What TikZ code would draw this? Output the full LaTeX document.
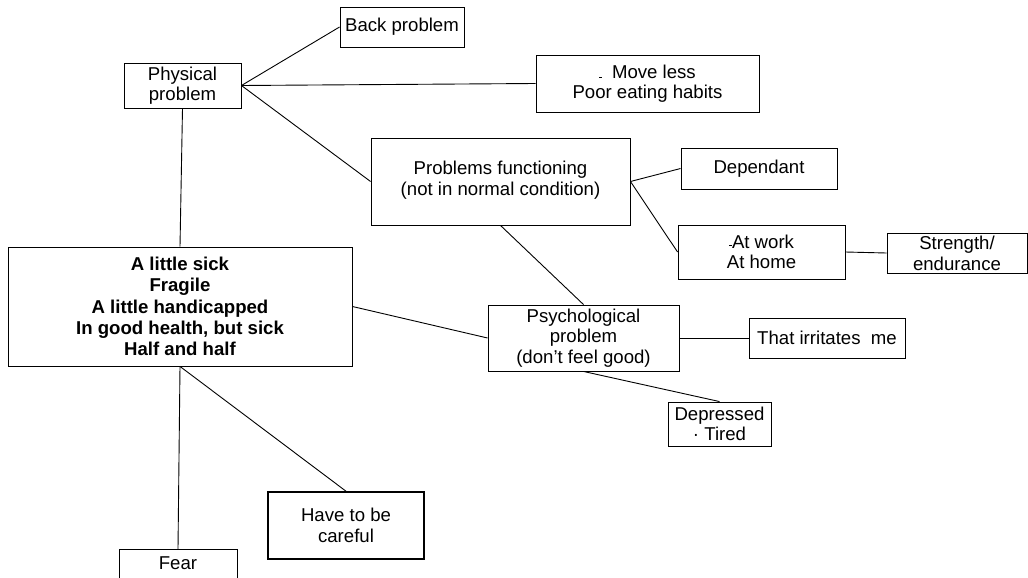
\documentclass[tikz,border=0pt]{standalone}
\usepackage{fontspec}
\setmainfont{Liberation Sans}
\begin{document}
\begin{tikzpicture}[x=1pt,y=-1pt,
  box/.style={draw, line width=0.9pt, inner sep=0pt, align=center,
    font=\fontsize{18.6}{20.5}\selectfont},
  link/.style={line width=0.9pt}]
\useasboundingbox (0,0) rectangle (1028,578);
\begin{scope}
\clip (0,0) rectangle (1028,578);
% nodes (centres and sizes in px)
\node[box, minimum width=124, minimum height=40] (back) at (402,27) {Back problem};
\node[box, minimum width=117, minimum height=45] (phys) at (182.5,85.5) {Physical\\problem};
\node[box, minimum width=223, minimum height=57] (move) at (647.5,83.5)
  {\rule{2.5pt}{1pt}\ \ Move less\\Poor eating habits};
\node[box, minimum width=259, minimum height=87] (func) at (500.5,181.5)
  {Problems functioning\\(not in normal condition)\\[-14pt]};
\node[box, minimum width=156, minimum height=41] (dep) at (759,168.5) {Dependant};
\node[box, minimum width=167, minimum height=54] (work) at (761.5,252)
  {\rule[3pt]{3pt}{0.8pt}At work\\At home};
\node[box, minimum width=140, minimum height=40] (str) at (957,253)
  {\\[-6pt]Strength/\\endurance};
\node[box, minimum width=344, minimum height=119,
  font=\fontsize{18.6}{21.3}\selectfont\bfseries] (big) at (180,306.5)
  {A little sick\\Fragile\\A little handicapped\\In good health, but sick\\Half and half};
\node[box, minimum width=191, minimum height=66] (psy) at (583.5,338)
  {Psychological\\problem\\(don’t feel good)};
\node[box, minimum width=156, minimum height=40] (irr) at (827,338) {That irritates\ \ me};
\node[box, minimum width=103, minimum height=44] (depr) at (719.5,424)
  {Depressed\\\textperiodcentered\ Tired};
\node[box, line width=1.6pt, minimum width=156, minimum height=67] (care) at (346,525.5)
  {Have to be\\careful};
\node[box, minimum width=118, anchor=north, text height=20pt, text depth=30pt] (fear)
  at (178,549) {Fear};
% connectors
\draw[link] (phys.east) -- (back.west);
\draw[link] (phys.east) -- (move.west);
\draw[link] (phys.east) -- (func.west);
\draw[link] (func.east) -- (dep.west);
\draw[link] (func.east) -- (work.west);
\draw[link] (work.east) -- (str.west);
\draw[link] (phys.south) -- (big.north);
\draw[link] (big.east) -- (psy.west);
\draw[link] (func.south) -- (psy.north);
\draw[link] (psy.east) -- (irr.west);
\draw[link] (psy.south) -- (depr.north);
\draw[link] (big.south) -- (fear.north);
\draw[link] (big.south) -- (care.north);
\end{scope}
\end{tikzpicture}
\end{document}
